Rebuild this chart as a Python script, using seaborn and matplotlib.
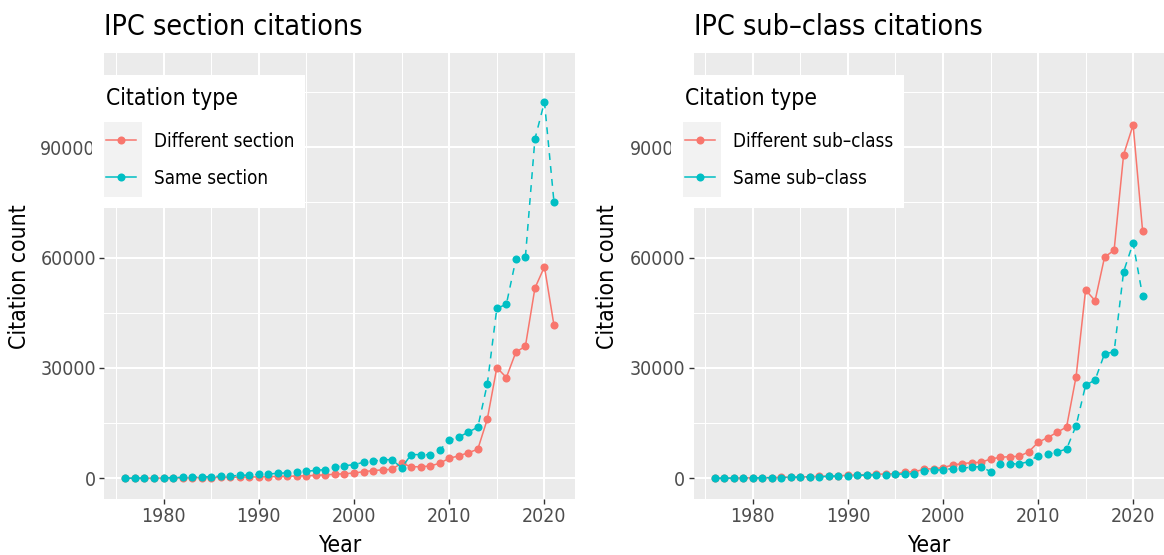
import matplotlib
matplotlib.use("Agg")
import matplotlib.pyplot as plt
import seaborn as sns
import pandas as pd
from matplotlib.patches import Rectangle
from matplotlib.transforms import Affine2D
from matplotlib.lines import Line2D

# ---------------- data ----------------
years = list(range(1976, 2022))

section_types = ["Different section", "Same section"]
sec_diff = [20, 30, 40, 50, 70, 90, 110, 140, 170, 200,
            230, 270, 310, 350, 400, 450, 500, 560, 620, 700,
            800, 950, 1100, 1250, 1450, 1800, 2100, 2300, 2450, 4150,
            3150, 3150, 3350, 4100, 5450, 6100, 6950, 7900, 16100, 30100,
            27400, 34300, 35900, 51700, 57500, 41600]
sec_same = [30, 50, 80, 110, 150, 200, 260, 320, 390, 470,
            560, 660, 770, 900, 1050, 1200, 1350, 1500, 1700, 1900,
            2170, 2360, 3080, 3440, 3710, 4350, 4620, 5070, 5070, 2850,
            6450, 6450, 6400, 7700, 10300, 11200, 12550, 13900, 25640, 46200,
            47290, 59520, 60160, 92230, 102300, 75110]

subclass_types = ["Different sub\u2013class", "Same sub\u2013class"]
sub_diff = [30, 50, 70, 100, 130, 170, 210, 260, 320, 380,
            450, 530, 620, 720, 820, 920, 1020, 1100, 1180, 1270,
            1630, 1810, 2450, 2630, 2900, 3620, 3990, 4260, 4350, 5250,
            5710, 5890, 5980, 7160, 9780, 11050, 12500, 13950, 27630, 51190,
            48290, 60160, 61970, 87970, 96040, 67230]
sub_same = [20, 40, 60, 80, 110, 140, 180, 220, 270, 320,
            380, 450, 520, 600, 700, 790, 880, 960, 1040, 1100,
            1180, 1270, 1900, 2170, 2360, 2630, 2720, 3080, 3170, 1810,
            3990, 3990, 3900, 4530, 6160, 6520, 7160, 7970, 14310, 25280,
            26730, 33880, 34340, 56170, 63960, 49560]

x_ticks = [1980, 1990, 2000, 2010, 2020]
y_ticks = [0, 30000, 60000, 90000]
titles = ["IPC section citations", "IPC sub\u2013class citations"]

# ---------------- style ----------------
RED, TEAL = "#F8766D", "#00BFC4"
plt.rcParams["font.family"] = ["DejaVu Sans"]
plt.rcParams["font.stretch"] = "condensed"

W, H = 1164, 555
fig = plt.figure(figsize=(W / 100, H / 100), dpi=100)
px = Affine2D().scale(1, -1).translate(0, H)


def add_ax(left, right, top, bottom):
    return fig.add_axes([left / W, 1 - bottom / H, (right - left) / W, (bottom - top) / H])


axes = [add_ax(104, 575.4, 53, 499.3), add_ax(693.5, 1164, 53, 499.3)]

datasets = [
    (section_types, sec_diff, sec_same),
    (subclass_types, sub_diff, sub_same),
]

legend_geo = [
    # white box (x0, y0, x1, y1), key box (x0, y0, x1, y1), legend anchor (x, y)
    ((92, 75, 305, 208), (104, 122, 142, 197), (106, 87)),
    ((671, 75, 904, 208), (683, 122, 721, 197), (685, 87)),
]

LW, MS = 1.1, 5.8

for ax, (types, d_vals, s_vals), title, (wbox, kbox, anchor) in zip(axes, datasets, titles, legend_geo):
    df = pd.DataFrame({
        "Year": years * 2,
        "Count": d_vals + s_vals,
        "Type": [types[0]] * len(years) + [types[1]] * len(years),
    })
    sns.lineplot(data=df, x="Year", y="Count", hue="Type", style="Type",
                 hue_order=types, style_order=types,
                 palette={types[0]: RED, types[1]: TEAL},
                 markers={types[0]: "o", types[1]: "o"},
                 dashes={types[0]: "", types[1]: (4.5, 4)},
                 linewidth=LW, markersize=MS, markeredgewidth=0,
                 legend=False, ax=ax)

    ax.set_facecolor("#EBEBEB")
    for s in ax.spines.values():
        s.set_visible(False)
    ax.set_xlim(1973.75, 2023.25)
    ax.set_ylim(-5700, 115600)
    ax.set_xticks(x_ticks)
    ax.set_xticks([1975, 1985, 1995, 2005, 2015], minor=True)
    ax.set_yticks(y_ticks)
    ax.set_yticks([15000, 45000, 75000, 105000], minor=True)
    ax.set_yticklabels([str(v) for v in y_ticks])
    ax.grid(which="major", color="white", linewidth=1.5)
    ax.grid(which="minor", color="white", linewidth=0.75)
    ax.set_axisbelow(True)
    ax.tick_params(which="major", length=3.3, width=1.0, color="#333333",
                   labelcolor="#4D4D4D", labelsize=14, pad=2.5)
    ax.tick_params(which="minor", length=0)

    ax.set_title(title, loc="left", fontsize=20.5, pad=13)
    ax.set_xlabel("Year", fontsize=16.5)
    ax.xaxis.label.set_va("baseline")
    ax.xaxis.set_label_coords(0.5, (H - 551.7 - (H - 499.3)) / 446.3)
    ax.set_ylabel("Citation count", fontsize=16.5)
    ax.yaxis.label.set_va("center")
    ax.yaxis.label.set_ha("center")
    left_px = ax.get_position().x0 * W
    width_px = ax.get_position().width * W
    lab_x = 20 if ax is axes[0] else 608
    ax.yaxis.set_label_coords((lab_x - left_px) / width_px, 0.5)

    # legend
    fig.add_artist(Rectangle((wbox[0], wbox[3]), wbox[2] - wbox[0], -(wbox[3] - wbox[1]),
                             transform=px, facecolor="white", edgecolor="none", zorder=3))
    fig.add_artist(Rectangle((kbox[0], kbox[3]), kbox[2] - kbox[0], -(kbox[3] - kbox[1]),
                             transform=px, facecolor="#F2F2F2", edgecolor="none", zorder=4))
    handles = [Line2D([], [], color=c, marker="o", linewidth=LW, markersize=MS,
                      markeredgewidth=0) for c in (RED, TEAL)]
    leg = fig.legend(handles, types, title="Citation type", loc="upper left",
                     bbox_to_anchor=anchor, bbox_transform=px, frameon=False,
                     fontsize=13.5, title_fontsize=16.4, handlelength=1.6,
                     handletextpad=0.95, labelspacing=0.98, borderpad=0,
                     borderaxespad=0)
    leg._legend_box.align = "left"
    leg._legend_box.sep = 15.5
    leg.set_zorder(5)

fig.savefig("out.png", dpi=100)
